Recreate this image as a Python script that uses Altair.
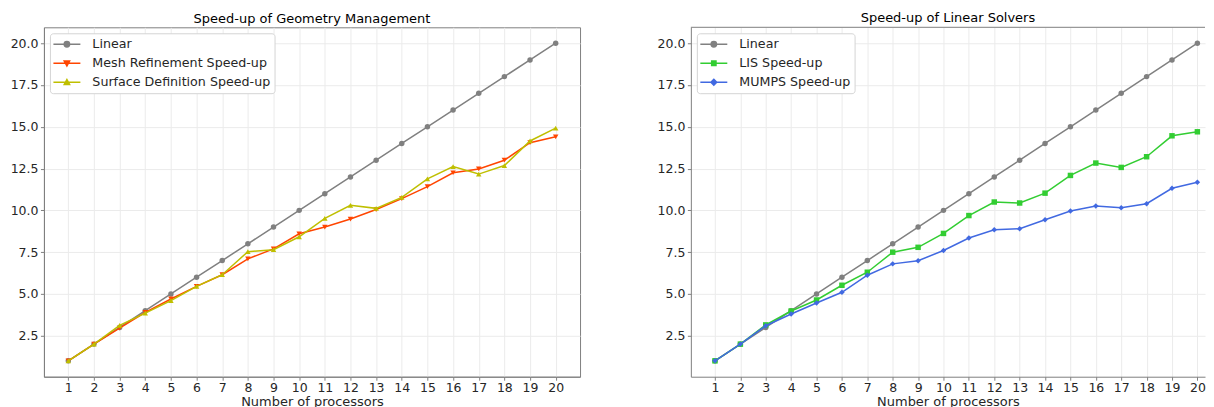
import altair as alt
import pandas as pd

# ---------------- data ----------------
procs = [1, 2, 3, 4, 5, 6, 7, 8, 9, 10, 11, 12, 13, 14, 15, 16, 17, 18, 19, 20]
linear = [1.0, 2.0, 3.0, 4.0, 5.0, 6.0, 7.0, 8.0, 9.0, 10.0,
          11.0, 12.0, 13.0, 14.0, 15.0, 16.0, 17.0, 18.0, 19.0, 20.0]
mesh_refinement = [1.0, 2.0, 2.95, 3.9, 4.7, 5.45, 6.15, 7.1, 7.7, 8.6,
                   9.0, 9.48, 10.05, 10.7, 11.42, 12.25, 12.48, 13.0, 14.05, 14.4]
surface_definition = [1.0, 2.0, 3.12, 3.85, 4.6, 5.45, 6.15, 7.53, 7.65, 8.42,
                      9.52, 10.3, 10.12, 10.78, 11.88, 12.62, 12.17, 12.68, 14.15, 14.92]
lis = [1.0, 2.0, 3.15, 3.98, 4.64, 5.52, 6.3, 7.5, 7.79, 8.62,
       9.69, 10.5, 10.44, 11.03, 12.09, 12.83, 12.57, 13.21, 14.46, 14.7]
mumps = [1.0, 2.0, 3.1, 3.8, 4.46, 5.1, 6.12, 6.8, 6.99, 7.6,
         8.35, 8.84, 8.9, 9.44, 9.96, 10.26, 10.16, 10.4, 11.32, 11.68]
y_ticks = [2.5, 5.0, 7.5, 10.0, 12.5, 15.0, 17.5, 20.0]

left_title = "Speed-up of Geometry Management"
right_title = "Speed-up of Linear Solvers"
left_names = ["Linear", "Mesh Refinement Speed-up", "Surface Definition Speed-up"]
right_names = ["Linear", "LIS Speed-up", "MUMPS Speed-up"]
x_title = "Number of processors"

# ---------------- style ----------------
FONT = "DejaVu Sans"
TXT = "#262626"
GRAY = "#808080"
left_colors = [GRAY, "#ff4500", "#bfbf00"]
right_colors = [GRAY, "#32cd32", "#4169e1"]
left_shapes = ["circle", "triangle-down", "triangle-up"]
right_shapes = ["circle", "square", "diamond"]

# legend glyphs: a short line with the marker in its middle (unit = 6 px)
P_CIRCLE = "M-2.25 0H2.25M0.45 0A0.45 0.45 0 1 1 -0.45 0A0.45 0.45 0 1 1 0.45 0Z"
P_TDOWN = "M-2.25 0H2.25M-0.45 -0.38L0.45 -0.38L0 0.45Z"
P_TUP = "M-2.25 0H2.25M-0.45 0.38L0.45 0.38L0 -0.45Z"
P_SQUARE = "M-2.25 0H2.25M-0.36 -0.36H0.36V0.36H-0.36Z"
P_DIAMOND = "M-2.25 0H2.25M0 -0.48L0.48 0L0 0.48L-0.48 0Z"
left_paths = [P_CIRCLE, P_TDOWN, P_TUP]
right_paths = [P_CIRCLE, P_SQUARE, P_DIAMOND]

W_LEFT, W_RIGHT, H = 537, 515, 350
X_MAX_LEFT, X_MAX_RIGHT = 20.95, 20.3


def legend_def():
    return alt.Legend(
        title=None, orient="top-left", offset=6, padding=4, rowPadding=5,
        symbolSize=144, symbolOffset=6, labelOffset=18.5,
        symbolStrokeWidth=1.5, symbolOpacity=1,
        fillColor="white", strokeColor="#d4d4d4", cornerRadius=3,
        labelFont=FONT, labelFontSize=12.7, labelColor=TXT, labelLimit=400,
    )


def panel(title, names, series_vals, colors, shapes, paths, width, xmax, right_spine):
    rows = []
    for n, vals in zip(names, series_vals):
        for p, v in zip(procs, vals):
            rows.append({"procs": p, "speedup": v, "series": n})
    df = pd.DataFrame(rows)
    xenc = alt.X("procs:Q",
                 scale=alt.Scale(domain=[0.05, xmax], nice=False, zero=False),
                 axis=alt.Axis(values=procs, format="d", title=x_title,
                               labelPadding=1.5, titlePadding=1))
    yenc = alt.Y("speedup:Q",
                 scale=alt.Scale(domain=[0.05, 20.95], nice=False, zero=False),
                 axis=alt.Axis(values=y_ticks, format=".1f", title=None, labelPadding=2.5))
    layers = []
    if not right_spine:
        # top frame line only (the right edge of this panel is cut off in the original)
        layers.append(
            alt.Chart(df)
            .transform_filter((alt.datum.procs == 1) & (alt.datum.series == names[0]))
            .mark_rule(color=GRAY, strokeWidth=1)
            .encode(x=alt.value(0), x2=alt.value(width), y=alt.value(0))
        )
    for n, c, s in zip(names, colors, shapes):
        base = alt.Chart(df).transform_filter(alt.datum.series == n).encode(x=xenc, y=yenc)
        layers.append(base.mark_line(color=c, strokeWidth=1.5))
        layers.append(base.mark_point(color=c, shape=s, filled=True, size=30, opacity=1))
    leg = alt.Chart(df).mark_point(opacity=0, filled=False).encode(
        x=xenc, y=yenc,
        color=alt.Color("series:N", scale=alt.Scale(domain=names, range=colors), legend=legend_def()),
        fill=alt.Fill("series:N", scale=alt.Scale(domain=names, range=colors), legend=legend_def()),
        shape=alt.Shape("series:N", scale=alt.Scale(domain=names, range=paths), legend=legend_def()),
    )
    props = dict(
        width=width, height=H,
        title=alt.Title(title, font=FONT, fontSize=13, fontWeight="normal", color="black",
                        anchor="middle", offset=1.5),
    )
    if not right_spine:
        props["view"] = alt.ViewBackground(stroke="transparent")
    return alt.layer(*layers, leg).properties(**props)


left = panel(left_title, left_names, [linear, mesh_refinement, surface_definition],
             left_colors, left_shapes, left_paths, W_LEFT, X_MAX_LEFT, True)
right = panel(right_title, right_names, [linear, lis, mumps],
              right_colors, right_shapes, right_paths, W_RIGHT, X_MAX_RIGHT, False)

chart = alt.hconcat(left, right, spacing=75).resolve_scale(
    color="independent", fill="independent", shape="independent"
).properties(
    padding={"left": 1, "top": 3, "right": 0, "bottom": 0}
).configure_view(
    stroke=GRAY, strokeWidth=1
).configure_axis(
    grid=True, gridColor="#ebebeb", gridWidth=1,
    domainColor=GRAY, domainWidth=1, tickColor=GRAY, tickSize=3.5, tickWidth=1,
    labelFont=FONT, labelFontSize=12.5, labelColor=TXT,
    titleFont=FONT, titleFontSize=13, titleFontWeight="normal", titleColor=TXT,
)

chart.save("out.html", embed_options={"renderer": "svg", "actions": False})
